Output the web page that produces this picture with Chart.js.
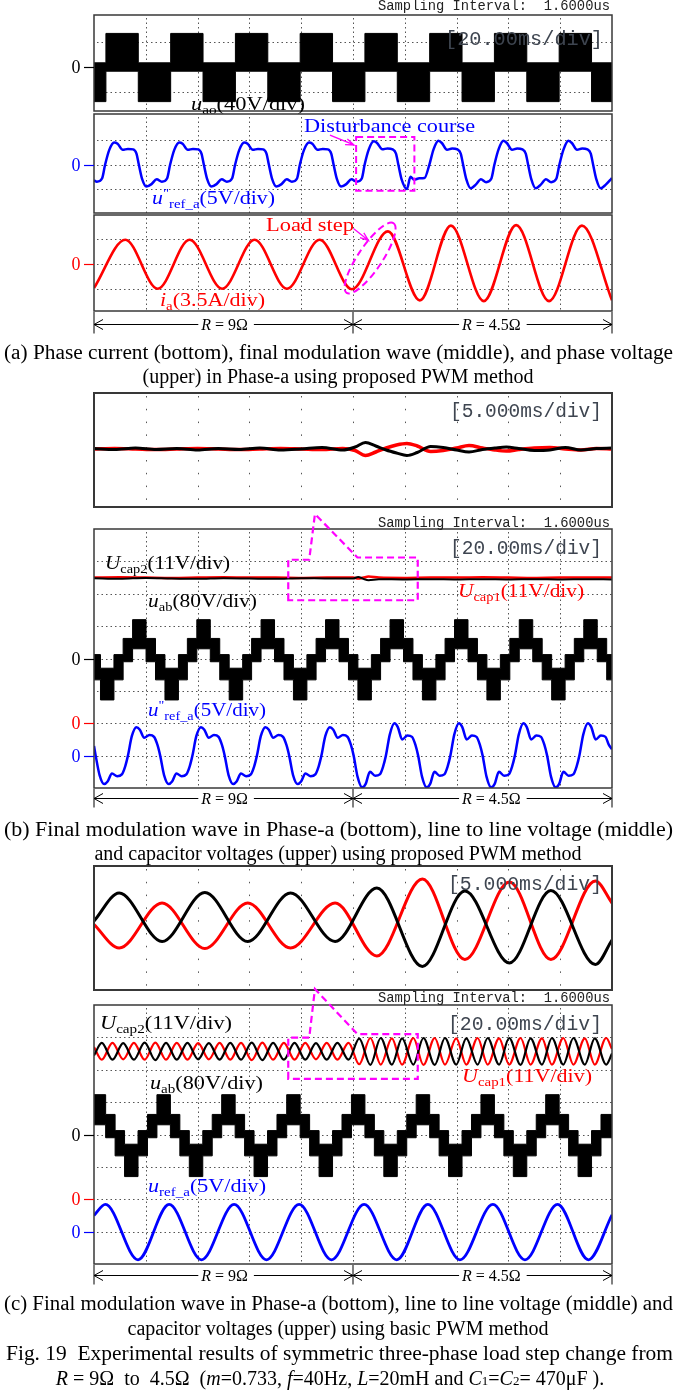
<!DOCTYPE html>
<html>
<head>
<meta charset="utf-8">
<title>Fig. 19 load step</title>
<script src="https://cdn.jsdelivr.net/npm/chart.js@4.4.1/dist/chart.umd.min.js"></script>
<style>
  html, body { margin: 0; padding: 0; background: #fff; }
  #page { position: relative; width: 676px; height: 1391px; overflow: hidden; background: #fff; }
  #page canvas { position: absolute; left: 0; }
  .cap { position: absolute; white-space: nowrap; font-family: "Liberation Serif", "Times New Roman", serif;
         font-size: 20px; line-height: 24px; color: #000; transform-origin: 0 50%; }
</style>
</head>
<body>
<div id="page"></div>
<script>
// ---------- axes ----------
const scopeDivs = [20, 40, 60, 80, 100, 120, 140, 160, 180];   // 20 ms/div screens
const zoomDivs = [80, 85, 90, 95, 100, 105, 110, 115, 120];     // 5 ms/div zoom windows
const rowLines = [-1, 0, 1];
const bigRowLines = [-3, -2, -1, 0, 1, 2, 3];

// ---------- (a) u_ao : PWM band edges, div ----------
const uaoT  = [0, 4.6, 17.1, 29.6, 42.1, 54.6, 67.1, 79.6, 92.1, 104.6, 117.1, 129.6, 142.1, 154.6, 167.1, 179.6, 192.1, 200];
const uaoHi = [0.17, 1.36, 0.17, 1.36, 0.17, 1.36, 0.17, 1.36, 0.17, 1.36, 0.17, 1.36, 0.17, 1.36, 0.17, 1.36, 0.17, 0.17];
const uaoLo = [-1.4, -0.17, -1.4, -0.17, -1.4, -0.17, -1.4, -0.17, -1.4, -0.17, -1.4, -0.17, -1.4, -0.17, -1.4, -0.17, -1.4, -1.4];

// ---------- (a) u''ref_a ----------
const refAT = [0, 1.1, 3.1,
  4.3, 5.9, 7.8, 9.1, 11.1, 13.1, 15.1, 16.4, 17.3, 18.6, 20.2, 22.2, 24.2, 26.2, 28.2,
  29.4, 31.0, 32.9, 34.2, 36.2, 38.2, 40.2, 41.5, 42.4, 43.7, 45.3, 47.3, 49.3, 51.3, 53.3,
  54.5, 56.1, 58.0, 59.3, 61.3, 63.3, 65.3, 66.6, 67.5, 68.8, 70.4, 72.4, 74.4, 76.4, 78.4,
  79.5, 81.1, 83.0, 84.3, 86.3, 88.3, 90.3, 91.6, 92.5, 93.8, 95.4, 97.4, 99.4, 101.4, 103.4,
  104.5, 106.1, 108.0, 109.3, 111.3, 113.3, 115.3, 116.6, 117.5, 118.8, 120.8, 122.2, 123.6, 125.6, 127.6,
  129.5, 131.1, 133.0, 134.3, 136.3, 138.3, 140.3, 141.6, 142.5, 143.8, 145.4, 147.4, 149.4, 151.4, 153.4,
  154.6, 156.2, 158.1, 159.4, 161.4, 163.4, 165.4, 166.7, 167.6, 168.9, 170.5, 172.5, 174.5, 176.5, 178.5,
  179.7, 181.3, 183.2, 184.5, 186.5, 188.5, 190.5, 191.8, 192.7, 194.0, 195.6, 197.6, 199.6, 200];
const refAV = [-0.65, -0.7, -0.57,
  0, .6, .9, .85, .6, .64, .62, .45, 0, -.6, -.9, -.8, -.6, -.7, -.57,
  0, .6, .9, .85, .6, .64, .62, .45, 0, -.6, -.9, -.8, -.6, -.7, -.57,
  0, .6, .9, .85, .6, .64, .62, .45, 0, -.6, -.9, -.8, -.6, -.7, -.57,
  0, .6, .9, .85, .6, .64, .62, .45, 0, -.6, -.9, -.8, -.6, -.7, -.57,
  0, .62, .95, .88, .62, .66, .62, .45, 0, -.62, -1.0, -.5, -.62, -.56, -.55,
  0, .62, .97, .88, .6, .66, .62, .45, 0, -.62, -.97, -.82, -.6, -.72, -.58,
  0, .62, .97, .88, .6, .66, .62, .45, 0, -.62, -.97, -.82, -.6, -.72, -.58,
  0, .62, .97, .88, .6, .66, .62, .45, 0, -.62, -.97, -.82, -.6, -.55];

// ---------- (a) i_a ----------
const iaT = [0, 12.1, 24.6, 36.9, 49.5, 62.0, 74.5, 87.1, 99.6, 113.5, 125.8, 137.8, 150.5, 163.0, 175.7, 188.4, 200];
const iaV = [-0.97, 0.98, -1.0, 0.98, -1.0, 0.98, -1.0, 0.98, -1.02, 1.32, -1.47, 1.55, -1.5, 1.57, -1.5, 1.55, -1.47];

// ---------- (b) zoom window 75..125 ms (px offsets) ----------
const b0T = [75, 77, 79, 81, 83, 85, 87, 89, 91, 93, 95, 97, 99, 100.2, 101.2, 102.2, 103.2, 104.2, 105.2, 106.2,
  107.5, 108.7, 110, 111.2, 112.5, 113.7, 114.8, 116, 117.5, 119, 120.5, 122, 123.5, 125];
const b0Black = [0.5, -0.5, 1, -0.5, 0.5, -1, 0.5, -0.5, 1, -1, 0, 1.5, -1, 2, 6.5, 3, -1, -4, -6.5, -3.5,
  2.5, 1.5, -1, -3, -0.5, 1, 2, 0.5, -1.5, -1, 1.5, -1, 0.5, 1];
const b0Red = [0, 0.5, 0, -0.5, 0, 0.5, 0, -0.5, 0, 0.5, 0, -0.5, 0.5, -1.5, -6.5, -3, 1, 4, 5.5, 3,
  -2.5, -1.5, 1, 3.5, 1, -1, -2, -0.5, 1, 1.5, 0, -1, 0.5, 0];

// ---------- (b) scope: capacitor voltages (div) ----------
const capBT = [0, 10, 20, 30, 40, 50, 60, 70, 80, 90, 100, 102, 104, 106, 110, 120, 130, 140, 150, 160, 170, 180, 190, 200];
const cap1B = [2.5, 2.51, 2.5, 2.49, 2.5, 2.51, 2.5, 2.5, 2.49, 2.5, 2.5, 2.47, 2.5, 2.53, 2.5, 2.49, 2.5, 2.5, 2.51, 2.5, 2.49, 2.5, 2.5, 2.5];
const cap2B = [2.48, 2.46, 2.49, 2.47, 2.46, 2.48, 2.47, 2.46, 2.48, 2.47, 2.47, 2.52, 2.46, 2.42, 2.45, 2.44, 2.45, 2.44, 2.45, 2.44, 2.45, 2.44, 2.45, 2.44];

// ---------- (b) u_ab PWM band edges ----------
const uabBT = [0, 2.5, 7.7, 11.25, 14.9, 20.1, 23.75, 27.4, 32.6, 36.05, 39.7, 44.9, 48.55, 52.2, 57.4,
  60.85, 64.5, 69.7, 73.35, 77.0, 82.2, 85.75, 89.4, 94.6, 98.25, 101.9, 107.1, 110.65, 114.3, 119.5,
  123.15, 126.8, 132.0, 135.55, 139.2, 144.4, 148.05, 151.7, 156.9, 160.55, 164.2, 169.4, 173.05, 176.7, 181.9,
  185.45, 189.1, 194.3, 197.95, 200];
const uabBHi = [0.12, -0.3, 0.12,
  0.62, 1.2, 0.62, 0.12, -0.3, 0.12,  0.62, 1.2, 0.62, 0.12, -0.3, 0.12,  0.62, 1.2, 0.62, 0.12, -0.3, 0.12,
  0.62, 1.2, 0.62, 0.12, -0.3, 0.12,  0.62, 1.2, 0.62, 0.12, -0.3, 0.12,  0.62, 1.2, 0.62, 0.12, -0.3, 0.12,
  0.62, 1.2, 0.62, 0.12, -0.3, 0.12,
  0.62, 1.2, 0.62, 0.12, 0.12];
const uabBLo = [-0.66, -1.28, -0.66,
  -0.1, 0.3, -0.1, -0.66, -1.28, -0.66,  -0.1, 0.3, -0.1, -0.66, -1.28, -0.66,  -0.1, 0.3, -0.1, -0.66, -1.28, -0.66,
  -0.1, 0.3, -0.1, -0.66, -1.28, -0.66,  -0.1, 0.3, -0.1, -0.66, -1.28, -0.66,  -0.1, 0.3, -0.1, -0.66, -1.28, -0.66,
  -0.1, 0.3, -0.1, -0.66, -1.28, -0.66,
  -0.1, 0.3, -0.1, -0.66, -0.66];

// ---------- (b) u''ref_a (div from its own zero) ----------
const refBT = [0, 0.65, 2.15, 3.95, 5.25, 6.95, 8.95, 10.75, 12.05,
  13.1, 14.6, 16.4, 17.7, 19.4, 21.4, 23.2, 24.5, 25.55, 27.05, 28.85, 30.15, 31.85, 33.85, 35.65, 36.95,
  38.0, 39.5, 41.3, 42.6, 44.3, 46.3, 48.1, 49.4, 50.45, 51.95, 53.75, 55.05, 56.75, 58.75, 60.55, 61.85,
  62.9, 64.4, 66.2, 67.5, 69.2, 71.2, 73.0, 74.3, 75.35, 76.85, 78.65, 79.95, 81.65, 83.65, 85.45, 86.75,
  87.8, 89.3, 91.1, 92.4, 94.1, 96.1, 97.9, 99.2, 100.25, 101.75, 103.55, 104.85, 106.55, 108.55, 110.35, 111.65,
  112.7, 114.2, 116.0, 117.3, 119.0, 121.0, 122.8, 124.1, 125.15, 126.65, 128.45, 129.75, 131.45, 133.45, 135.25, 136.55,
  137.6, 139.1, 140.9, 142.2, 143.9, 145.9, 147.7, 149.0, 150.05, 151.55, 153.35, 154.65, 156.35, 158.35, 160.15, 161.45,
  162.5, 164.0, 165.8, 167.1, 168.8, 170.8, 172.6, 173.9, 174.95, 176.45, 178.25, 179.55, 181.25, 183.25, 185.05, 186.35,
  187.4, 188.9, 190.7, 192.0, 193.7, 195.7, 197.5, 198.8, 200];
const refBV = [0.3, 0, -.6, -.88, -.8, -.55, -.64, -.58, -.33,
  0, .6, .88, .8, .55, .64, .58, .33, 0, -.6, -.88, -.8, -.55, -.64, -.58, -.33,
  0, .6, .88, .8, .55, .64, .58, .33, 0, -.6, -.88, -.8, -.55, -.64, -.58, -.33,
  0, .6, .88, .8, .55, .64, .58, .33, 0, -.6, -.88, -.8, -.55, -.64, -.58, -.33,
  0, .6, .88, .8, .55, .64, .58, .33, 0, -.65, -.98, -.88, -.5, -.62, -.58, -.33,
  0, .65, 1.0, .88, .5, .62, .58, .33, 0, -.65, -.98, -.88, -.5, -.62, -.58, -.33,
  0, .65, 1.0, .88, .5, .62, .58, .33, 0, -.65, -.98, -.88, -.5, -.62, -.58, -.33,
  0, .65, 1.0, .88, .5, .62, .58, .33, 0, -.65, -.98, -.88, -.5, -.62, -.58, -.33,
  0, .65, 1.0, .88, .5, .62, .58, .33, .2];

// ---------- (c) zoom window 75..125 ms (px offsets) ----------
const c0T = [75, 77.43, 81.57, 85.7, 89.84, 93.97, 98.27, 102.3, 106.7, 110.8, 115.1, 119.1, 123.4, 125];
const c0Black = [7, 35, -13.5, 35.5, -13.5, 35, -13.5, 40, -38.5, 37, -35, 37.5, -36.5, -12];
const c0Red = [3.5, -20, 25, -20.5, 25, -20, 25, -28, 49, -31.5, 46, -31.5, 47, 25];

// ---------- (c) scope: capacitor ripple (div) ----------
const ripT = [0, 3.0, 7.13, 11.27, 15.4, 19.54, 23.68, 27.81, 31.95, 36.08, 40.2, 44.35, 48.5, 52.62, 56.76, 60.89,
  65.0, 69.16, 73.3, 77.43, 81.57, 85.7, 89.84, 93.97, 98.27,
  102.4, 106.7, 110.7, 115.0, 118.95, 123.3, 127.2, 131.55, 135.5, 139.85, 143.75, 148.1, 152.0, 156.4, 160.3,
  164.7, 168.55, 172.95, 176.8, 181.2, 185.1, 189.5, 193.35, 197.75, 200];
const cap2C = [2.44, 2.83, 2.31, 2.82, 2.31, 2.84, 2.3, 2.83, 2.31, 2.83, 2.32, 2.82, 2.31, 2.83, 2.31, 2.84,
  2.3, 2.83, 2.31, 2.83, 2.31, 2.82, 2.31, 2.83, 2.31,
  2.96, 2.15, 2.98, 2.16, 2.97, 2.16, 2.98, 2.15, 2.98, 2.16, 2.97, 2.16, 2.98, 2.16, 2.98,
  2.15, 2.97, 2.16, 2.98, 2.16, 2.98, 2.16, 2.97, 2.16, 2.5];
const cap1C = [2.7, 2.31, 2.83, 2.32, 2.83, 2.31, 2.84, 2.31, 2.83, 2.31, 2.82, 2.32, 2.83, 2.31, 2.83, 2.3,
  2.84, 2.31, 2.83, 2.31, 2.83, 2.32, 2.83, 2.31, 2.83,
  2.17, 2.98, 2.16, 2.97, 2.16, 2.98, 2.15, 2.98, 2.16, 2.97, 2.16, 2.98, 2.16, 2.97, 2.16,
  2.98, 2.16, 2.97, 2.16, 2.98, 2.16, 2.97, 2.16, 2.98, 2.64];

// ---------- (c) u_ab PWM band edges ----------
const uabCT = [0, 4.5, 8.15, 11.8, 17.0, 20.65, 24.3, 29.5, 33.15, 36.8, 42.0, 45.65, 49.3, 54.5, 58.15, 61.8, 67.0, 70.65,
  74.4, 79.6, 83.25, 86.9, 92.1, 95.75, 99.4, 104.6, 108.25, 111.9, 117.1, 120.75, 124.4, 129.6, 133.25, 136.9, 142.1, 145.75,
  149.4, 154.6, 158.25, 161.9, 167.1, 170.75, 174.4, 179.6, 183.25, 186.9, 192.1, 195.75, 200];
const uabCHi = [1.23, 0.62, 0.12, -0.3, 0.12, 0.62,  1.23, 0.62, 0.12, -0.3, 0.12, 0.62,  1.23, 0.62, 0.12, -0.3, 0.12, 0.62,
  1.23, 0.62, 0.12, -0.3, 0.12, 0.62,  1.23, 0.62, 0.12, -0.3, 0.12, 0.62,  1.23, 0.62, 0.12, -0.3, 0.12, 0.62,
  1.23, 0.62, 0.12, -0.3, 0.12, 0.62,  1.23, 0.62, 0.12, -0.3, 0.12, 0.62,  0.62];
const uabCLo = [0.3, -0.1, -0.66, -1.3, -0.66, -0.1,  0.3, -0.1, -0.66, -1.3, -0.66, -0.1,  0.3, -0.1, -0.66, -1.3, -0.66, -0.1,
  0.3, -0.1, -0.66, -1.3, -0.66, -0.1,  0.3, -0.1, -0.66, -1.3, -0.66, -0.1,  0.3, -0.1, -0.66, -1.3, -0.66, -0.1,
  0.3, -0.1, -0.66, -1.3, -0.66, -0.1,  0.3, -0.1, -0.66, -1.3, -0.66, -0.1,  -0.1];

// ---------- (c) u_ref_a (div from its own zero) ----------
const refCT = [0, 4.4, 17.0, 29.0, 41.5, 54.1, 66.6, 79.2, 91.7, 104.3, 116.9, 128.9, 141.3, 154.0, 166.4, 179.0, 190.9, 200];
const refCV = [0.5, 0.84, -0.87, 0.84, -0.87, 0.84, -0.87, 0.84, -0.87, 0.84, -0.87, 0.84, -0.87, 0.84, -0.87, 0.84, -0.87, 0.52];

const BLUE_ZERO = -3;   // channel offsets on the (b)/(c) screens, div
const RED_ZERO = -2;

// ---------- helpers ----------
const RED = '#ff0000', BLUE = '#0000ff', MAG = '#ff00ff', GRID = '#555555', FRAME = '#383838';
const SERIF = '"Liberation Serif", "Times New Roman", serif';
const MONO = '"Liberation Mono", "DejaVu Sans Mono", monospace';
const page = document.getElementById('page');

function pts(t, v, off) { return t.map((x, i) => ({ x: x, y: v[i] + (off || 0) })); }
function trace(t, v, color, width, off) {
  return { data: pts(t, v, off), borderColor: color, borderWidth: width, pointRadius: 0, fill: false,
           cubicInterpolationMode: 'monotone' };
}
function band(t, hi, lo) {
  return [
    { data: pts(t, hi), borderColor: '#000', borderWidth: 1, pointRadius: 0, stepped: true, fill: false },
    { data: pts(t, lo), borderColor: '#000', borderWidth: 1, pointRadius: 0, stepped: true, fill: '-1', backgroundColor: '#000' }
  ];
}
function P(c, t, v) { return [c.scales.x.getPixelForValue(t), c.scales.y.getPixelForValue(v)]; }

function grid(c, xs, ys, dash) {
  const { ctx, chartArea: a, scales } = c;
  ctx.save();
  ctx.strokeStyle = GRID; ctx.lineWidth = 1; ctx.setLineDash(dash);
  xs.forEach(t => {
    const X = Math.round(scales.x.getPixelForValue(t)) + 0.5;
    ctx.beginPath(); ctx.moveTo(X, a.top + 3); ctx.lineTo(X, a.bottom); ctx.stroke();
  });
  ys.forEach(v => {
    const Y = Math.round(scales.y.getPixelForValue(v)) + 0.5;
    ctx.beginPath(); ctx.moveTo(a.left + 3, Y); ctx.lineTo(a.right, Y); ctx.stroke();
  });
  ctx.restore();
}
function frame(c, w) {
  const { ctx, chartArea: a } = c;
  ctx.save(); ctx.strokeStyle = FRAME; ctx.lineWidth = w || 1.5;
  ctx.strokeRect(a.left, a.top, a.right - a.left, a.bottom - a.top);
  ctx.restore();
}
function zeroMark(c, v, color) {
  const { ctx, chartArea: a } = c;
  const y = Math.round(c.scales.y.getPixelForValue(v)) + 0.5;
  ctx.save();
  ctx.strokeStyle = color; ctx.lineWidth = 1.2;
  ctx.beginPath(); ctx.moveTo(84, y); ctx.lineTo(a.left, y); ctx.stroke();
  ctx.fillStyle = color; ctx.font = '18px ' + SERIF; ctx.textAlign = 'center'; ctx.textBaseline = 'middle';
  ctx.fillText('0', 76, y + 1);
  ctx.restore();
}
// parts: [text, style] style letters: i italic, s subscript, p superscript
function rich(ctx, parts, x, cy, size, color, width) {
  ctx.save();
  ctx.fillStyle = color; ctx.textBaseline = 'alphabetic'; ctx.textAlign = 'left';
  const items = parts.map(([txt, st]) => {
    const small = st.indexOf('s') >= 0 || st.indexOf('p') >= 0;
    const font = (st.indexOf('i') >= 0 ? 'italic ' : '') + (small ? size * 0.68 : size) + 'px ' + SERIF;
    ctx.font = font;
    const dy = st.indexOf('s') >= 0 ? size * 0.2 : (st.indexOf('p') >= 0 ? -size * 0.4 : 0);
    return { txt, font, dy, w: ctx.measureText(txt).width };
  });
  const total = items.reduce((s, it) => s + it.w, 0);
  ctx.translate(x, cy + size * 0.33);
  if (width) ctx.scale(width / total, 1);
  let cx = 0;
  items.forEach(it => { ctx.font = it.font; ctx.fillText(it.txt, cx, it.dy); cx += it.w; });
  ctx.restore();
}
function mono(ctx, txt, x0, x1, cy, size, color) {
  ctx.save();
  ctx.font = size + 'px ' + MONO; ctx.fillStyle = color; ctx.textBaseline = 'middle'; ctx.textAlign = 'left';
  const w = ctx.measureText(txt).width;
  ctx.translate(x0, cy); ctx.scale((x1 - x0) / w, 1); ctx.fillText(txt, 0, 0);
  ctx.restore();
}
function magPath(c, list, close, width) {
  const { ctx } = c;
  ctx.save(); ctx.strokeStyle = MAG; ctx.lineWidth = width || 2; ctx.setLineDash([7, 4]);
  ctx.beginPath();
  list.forEach(([X, Y], i) => i ? ctx.lineTo(X, Y) : ctx.moveTo(X, Y));
  if (close) ctx.closePath();
  ctx.stroke(); ctx.restore();
}
function magArrow(c, from, to) {
  const { ctx } = c; const [x0, y0] = from, [x1, y1] = to;
  const ang = Math.atan2(y1 - y0, x1 - x0);
  ctx.save(); ctx.strokeStyle = MAG; ctx.lineWidth = 1.3;
  ctx.beginPath(); ctx.moveTo(x0, y0); ctx.lineTo(x1, y1);
  ctx.moveTo(x1 - 9 * Math.cos(ang - 0.35), y1 - 9 * Math.sin(ang - 0.35));
  ctx.lineTo(x1, y1);
  ctx.lineTo(x1 - 9 * Math.cos(ang + 0.35), y1 - 9 * Math.sin(ang + 0.35));
  ctx.stroke(); ctx.restore();
}
function rangeArrows(c, dy, labelAt) {
  const { ctx, chartArea: a, scales: { x } } = c;
  const y = Math.round(a.bottom + dy) + 0.5;
  const X = [0, 100, 200].map(m => x.getPixelForValue(m));
  ctx.save(); ctx.strokeStyle = '#000'; ctx.lineWidth = 1;
  X.forEach(px => { ctx.beginPath(); ctx.moveTo(px, a.bottom + 1); ctx.lineTo(px, y + 9); ctx.stroke(); });
  ctx.beginPath(); ctx.moveTo(X[0], y); ctx.lineTo(X[2], y); ctx.stroke();
  const head = (px, dir) => {
    ctx.beginPath(); ctx.moveTo(px - dir * 9, y - 5); ctx.lineTo(px, y); ctx.lineTo(px - dir * 9, y + 5); ctx.stroke();
  };
  head(X[0], -1); head(X[1], 1); head(X[1], -1); head(X[2], 1);
  const labels = [[labelAt[0], [['R', 'i'], [' = 9\u03A9', '']]], [labelAt[1], [['R', 'i'], [' = 4.5\u03A9', '']]]];
  labels.forEach(([t, parts]) => {
    ctx.font = '16px ' + SERIF;
    const w = parts.reduce((s, p) => s + ctx.measureText(p[0]).width, 0) + 2;
    const cx = x.getPixelForValue(t);
    ctx.fillStyle = '#fff'; ctx.fillRect(cx - w / 2 - 3, y - 8, w + 6, 16);
    rich(ctx, parts, cx - w / 2, y, 16, '#000');
  });
  ctx.restore();
}

function panel(top, height, padTop, padBottom, xr, yr, datasets, before, after) {
  const cv = document.createElement('canvas');
  cv.width = 676; cv.height = height; cv.style.top = top + 'px';
  page.appendChild(cv);
  return new Chart(cv.getContext('2d'), {
    type: 'line',
    data: { datasets: datasets },
    options: {
      responsive: false, animation: false, devicePixelRatio: 1,
      layout: { padding: { left: 94, right: 64, top: padTop, bottom: padBottom } },
      scales: {
        x: { type: 'linear', min: xr[0], max: xr[1], display: false },
        y: { type: 'linear', min: yr[0], max: yr[1], display: false }
      },
      plugins: { legend: { display: false }, tooltip: { enabled: false } },
      elements: { point: { radius: 0 } }
    },
    plugins: [{
      id: 'scopeDeco',
      beforeDatasetsDraw: c => { if (before) before(c, top); },
      afterDatasetsDraw: c => { if (after) after(c, top); }
    }]
  });
}

// ================= (a) =================
panel(0, 114, 15, 3, [0, 200], [-1.78, 2.105], band(uaoT, uaoHi, uaoLo),
  c => grid(c, scopeDivs, rowLines, [1.5, 3]),
  (c, top) => {
    const ctx = c.ctx;
    frame(c); zeroMark(c, 0, '#000');
    mono(ctx, 'Sampling Interval:  1.6000us', 378, 610, 6 - top, 14, '#222');
    mono(ctx, '[20.00ms/div]', 445, 603, 40 - top, 20, '#3e4550');
    rich(ctx, [['u', 'i'], ['ao', 's'], ['(40V/div)', '']], 191, 104 - top, 19, '#000', 114);
  });

panel(112, 102, 2, 1, [0, 200], [-1.98, 2.065], [trace(refAT, refAV, BLUE, 2.5)],
  c => grid(c, scopeDivs, rowLines, [1.5, 3]),
  (c, top) => {
    const ctx = c.ctx;
    frame(c); zeroMark(c, 0, BLUE);
    rich(ctx, [['u', 'i'], ['"', 'p'], ['ref_a', 's'], ['(5V/div)', '']], 152, 198 - top, 19, BLUE, 123);
    rich(ctx, [['Disturbance course', '']], 304, 126 - top, 19, BLUE, 171);
    const a = P(c, 101.2, 1.13), b = P(c, 123.7, -1.07);
    magPath(c, [[a[0], a[1]], [b[0], a[1]], [b[0], b[1]], [a[0], b[1]]], true);
    magArrow(c, P(c, 91.1, 1.2), P(c, 100.4, 0.8));
  });

panel(214, 130, 1, 33, [0, 200], [-1.9, 1.98], [trace(iaT, iaV, RED, 2.6)],
  c => grid(c, scopeDivs, rowLines, [1.5, 3]),
  (c, top) => {
    const ctx = c.ctx;
    frame(c); zeroMark(c, 0, RED);
    rich(ctx, [['i', 'i'], ['a', 's'], ['(3.5A/div)', '']], 160, 300 - top, 19, RED, 105);
    rich(ctx, [['Load step', '']], 266, 225 - top, 19, RED, 88);
    magArrow(c, P(c, 100.3, 1.42), P(c, 106.0, 0.95));
    const e = P(c, 106.6, 0.24);
    ctx.save(); ctx.strokeStyle = MAG; ctx.lineWidth = 2; ctx.setLineDash([7, 4]);
    ctx.beginPath(); ctx.ellipse(e[0], e[1], 42, 12, -56 * Math.PI / 180, 0, 2 * Math.PI); ctx.stroke();
    ctx.restore();
    rangeArrows(c, 13, [51, 154]);
  });

// ================= (b) =================
panel(386, 124, 7, 3, [75, 125], [-58, 56], [trace(b0T, b0Black, '#000', 3), trace(b0T, b0Red, RED, 3.5)],
  c => grid(c, zoomDivs, [], [1.5, 11.3]),
  (c, top) => {
    frame(c, 2);
    mono(c.ctx, '[5.000ms/div]', 450, 602, 412 - top, 20, '#3e4550');
  });

panel(505, 305, 24, 22, [0, 200], [-4, 4],
  [trace(capBT, cap2B, '#000', 2), trace(capBT, cap1B, RED, 2.5)]
    .concat(band(uabBT, uabBHi, uabBLo))
    .concat([trace(refBT, refBV, BLUE, 2.5, BLUE_ZERO)]),
  c => grid(c, scopeDivs, bigRowLines, [1.5, 3]),
  (c, top) => {
    const ctx = c.ctx;
    frame(c);
    zeroMark(c, 0, '#000'); zeroMark(c, RED_ZERO, RED); zeroMark(c, BLUE_ZERO, BLUE);
    mono(ctx, 'Sampling Interval:  1.6000us', 378, 610, 523 - top, 14, '#222');
    mono(ctx, '[20.00ms/div]', 450, 602, 549 - top, 20, '#3e4550');
    rich(ctx, [['U', 'i'], ['cap2', 's'], ['(11V/div)', '']], 105, 563 - top, 19, '#000', 125);
    rich(ctx, [['U', 'i'], ['cap1', 's'], ['(11V/div)', '']], 458, 591 - top, 19, RED, 126);
    rich(ctx, [['u', 'i'], ['ab', 's'], ['(80V/div)', '']], 148, 601 - top, 19, '#000', 109);
    rich(ctx, [['u', 'i'], ['"', 'p'], ['ref_a', 's'], ['(5V/div)', '']], 148, 710 - top, 19, BLUE, 118);
    const apexY = c.chartArea.top - 15;
    const lb = P(c, 75, 1.8), lt = P(c, 75, 3.05), j1 = P(c, 83.1, 3.05), j2 = P(c, 101.7, 3.12), rt = P(c, 125, 3.12), rb = P(c, 125, 1.8);
    magPath(c, [lb, lt, j1, [c.scales.x.getPixelForValue(85.3), apexY], j2, rt, rb], true, 2.2);
    rangeArrows(c, 10, [51, 154]);
  });

// ================= (c) =================
panel(860, 132, 6, 2, [75, 125], [-62, 62], [trace(c0T, c0Black, '#000', 3), trace(c0T, c0Red, RED, 3)],
  c => grid(c, zoomDivs, [], [1.5, 11.3]),
  (c, top) => {
    frame(c, 2);
    mono(c.ctx, '[5.000ms/div]', 448, 602, 885 - top, 20, '#3e4550');
  });

panel(984, 310, 21, 30, [0, 200], [-4, 4],
  [trace(ripT, cap2C, '#000', 2.2), trace(ripT, cap1C, RED, 2.2)]
    .concat(band(uabCT, uabCHi, uabCLo))
    .concat([trace(refCT, refCV, BLUE, 2.8, BLUE_ZERO)]),
  c => grid(c, scopeDivs, bigRowLines, [1.5, 3]),
  (c, top) => {
    const ctx = c.ctx;
    frame(c);
    zeroMark(c, 0, '#000'); zeroMark(c, RED_ZERO, RED); zeroMark(c, BLUE_ZERO, BLUE);
    mono(ctx, 'Sampling Interval:  1.6000us', 378, 610, 998 - top, 14, '#222');
    mono(ctx, '[20.00ms/div]', 448, 602, 1025 - top, 20, '#3e4550');
    rich(ctx, [['U', 'i'], ['cap2', 's'], ['(11V/div)', '']], 100, 1023 - top, 19, '#000', 132);
    rich(ctx, [['U', 'i'], ['cap1', 's'], ['(11V/div)', '']], 462, 1076 - top, 19, RED, 130);
    rich(ctx, [['u', 'i'], ['ab', 's'], ['(80V/div)', '']], 150, 1083 - top, 19, '#000', 113);
    rich(ctx, [['u', 'i'], ['ref_a', 's'], ['(5V/div)', '']], 148, 1186 - top, 19, BLUE, 118);
    const apexY = c.chartArea.top - 16;
    const lb = P(c, 75, 1.72), lt = P(c, 75, 2.99), j1 = P(c, 83.1, 2.99), j2 = P(c, 101.7, 3.1), rt = P(c, 125, 3.1), rb = P(c, 125, 1.72);
    magPath(c, [lb, lt, j1, [c.scales.x.getPixelForValue(85.3), apexY], j2, rt, rb], true, 2.2);
    rangeArrows(c, 11, [51, 154]);
  });

// ================= captions =================
// [html, left, right, centre y]; lines with left = null keep their natural width and are centred
const captions = [
  ['(a) Phase current (bottom), final modulation wave (middle), and phase voltage', 4, 673, 352],
  ['(upper) in Phase-a using proposed PWM method', null, 338, 376],
  ['(b) Final modulation wave in Phase-a (bottom), line to line voltage (middle)', 4, 673, 829],
  ['and capacitor voltages (upper) using proposed PWM method', null, 338, 853],
  ['(c) Final modulation wave in Phase-a (bottom), line to line voltage (middle) and', 4, 673, 1303],
  ['capacitor voltages (upper) using basic PWM method', null, 338, 1328],
  ['Fig. 19&nbsp; Experimental results of symmetric three-phase load step change from', 6, 673, 1353],
  ['<i>R</i> = 9\u03A9&nbsp; to&nbsp; 4.5\u03A9&nbsp; (<i>m</i>=0.733, <i>f</i>=40Hz, <i>L</i>=20mH and <i>C</i><span style="font-size:13px">1</span>=<i>C</i><span style="font-size:13px">2</span>= 470\u03BCF ).', null, 330, 1378]
];
captions.forEach(([html, x0, x1, cy]) => {
  const s = document.createElement('span');
  s.className = 'cap';
  s.innerHTML = html;
  page.appendChild(s);
  const w = s.getBoundingClientRect().width;
  s.style.top = (cy - 12) + 'px';
  if (x0 === null) {
    s.style.left = (x1 - w / 2) + 'px';
  } else {
    s.style.left = x0 + 'px';
    s.style.transform = 'scaleX(' + ((x1 - x0) / w).toFixed(4) + ')';
  }
});
</script>
</body>
</html>
